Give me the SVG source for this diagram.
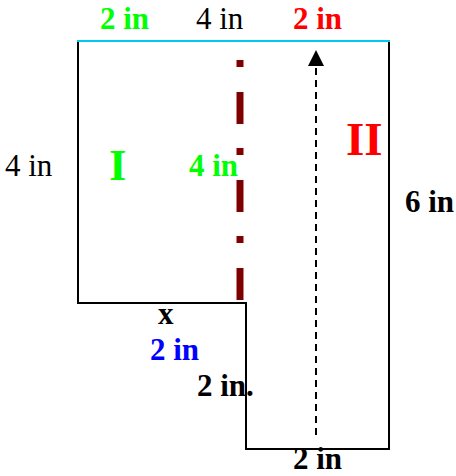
<svg xmlns="http://www.w3.org/2000/svg" width="456" height="476" viewBox="0 0 456 476">
<style>
text{font-family:"Liberation Serif","Times New Roman",serif;font-size:31px}
.b{font-weight:bold}
.outline{fill:none;stroke:#000;stroke-width:2}
</style>
<g id="shape">
<path class="outline" d="M78,41 V303 H246 V449 H389 V41"/>
<line x1="77" y1="41" x2="390" y2="41" stroke="#00c8f0" stroke-width="2"/>
</g>
<g id="connectors">
<line x1="240" y1="60" x2="240" y2="300" stroke="#800000" stroke-width="7" stroke-dasharray="7 25 32 24"/>
<line x1="316" y1="435" x2="316" y2="62" stroke="#000" stroke-width="2" stroke-dasharray="7 5"/>
<path d="M308,66 L316,50 L324,66 Z" fill="#000"/>
</g>
<g id="labels">
<text x="100" y="29" class="b" fill="#00ff00">2 in</text>
<text x="196" y="29" fill="#000">4 in</text>
<text x="293" y="29" class="b" fill="#ff0000">2 in</text>
<text x="109" y="180" class="b" fill="#00ff00" style="font-size:45px">I</text>
<text x="346" y="155" class="b" fill="#ff0000" style="font-size:47px">II</text>
<text x="5" y="176" fill="#000">4 in</text>
<text x="189" y="176" class="b" fill="#00ff00">4 in</text>
<text x="405" y="212" class="b" fill="#000">6 in</text>
<text x="158" y="324" class="b" fill="#000">x</text>
<text x="150" y="360" class="b" fill="#0000ff">2 in</text>
<text x="197" y="396" class="b" fill="#000">2 in.</text>
<text x="293" y="469" class="b" fill="#000">2 in</text>
</g>
</svg>
